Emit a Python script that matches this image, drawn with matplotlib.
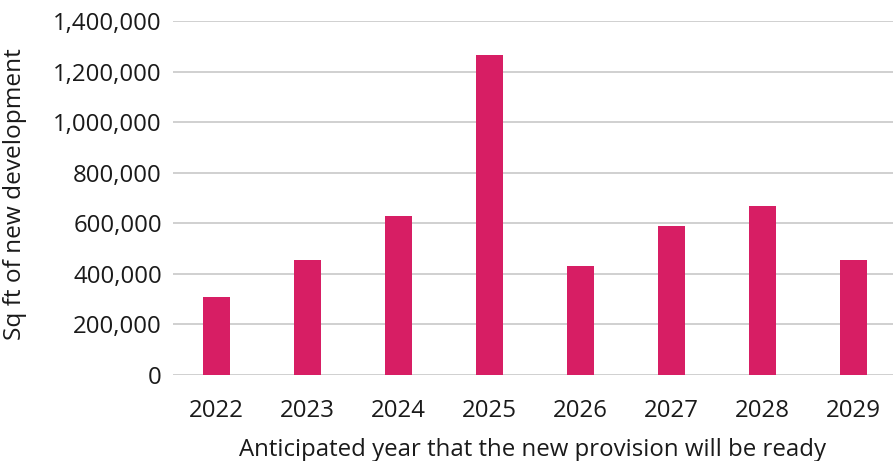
import matplotlib.pyplot as plt
import numpy as np
from matplotlib.ticker import FuncFormatter

# data
years = ['2022', '2023', '2024', '2025', '2026', '2027', '2028', '2029']
sqft = [308000, 455000, 628000, 1267000, 431000, 589000, 667000, 455000]

plt.rcParams['font.family'] = ['Open Sans', 'DejaVu Sans']

fig = plt.figure(figsize=(8.93, 4.61), dpi=100)
ax = fig.add_axes([0.1937, 0.1866, 0.8063, 0.7679])

x = np.arange(len(years))
ax.bar(x, sqft, width=0.3, color='#d71e64', zorder=3)

ax.set_xlim(-0.478, 7.434)
ax.set_ylim(0, 1400000)
ax.set_yticks(np.arange(0, 1400001, 200000))
ax.yaxis.set_major_formatter(FuncFormatter(lambda v, p: f'{int(v):,}'))
ax.set_xticks(x)
ax.set_xticklabels(years)

ax.grid(axis='y', color='#c8c8c8', linewidth=1.2, zorder=0)
for s in ax.spines.values():
    s.set_visible(False)
ax.tick_params(axis='both', length=0, labelsize=17.3, colors='#1a1a1a')
ax.tick_params(axis='x', pad=17)
ax.tick_params(axis='y', pad=8)

ax.set_xlabel('Anticipated year that the new provision will be ready',
              fontsize=17.3, color='#1a1a1a', labelpad=11)
ax.set_ylabel('Sq ft of new development', fontsize=17.6, color='#1a1a1a')
ax.yaxis.set_label_coords(-0.203, 0.511)

fig.savefig('out.png', dpi=100)
